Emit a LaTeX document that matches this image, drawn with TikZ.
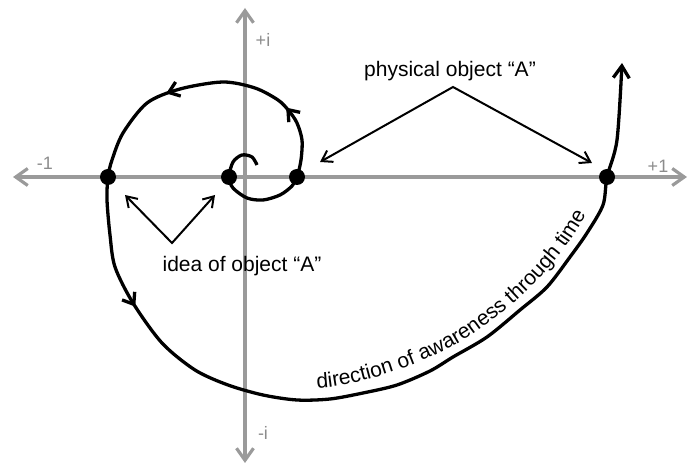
\documentclass[tikz,border=0pt]{standalone}
\usepackage{fontspec}
\setmainfont{Liberation Sans}
\usepackage{tikz}
\usetikzlibrary{arrows.meta,decorations.markings,decorations.text}
\definecolor{AxisGray}{HTML}{9A9A9A}
\definecolor{LabelGray}{HTML}{8C8C8C}
\newcommand{\figlabelfont}{\fontsize{21}{24}\selectfont}
\newcommand{\axlabelfont}{\fontsize{18}{21}\selectfont}

\begin{document}
\begin{tikzpicture}[x=1pt, y=1pt,
  axisline/.style={draw=AxisGray, line width=3.2pt, {Straight Barb[length=12pt,width=17pt]}-{Straight Barb[length=12pt,width=17pt]}},
  axlabel/.style={text=LabelGray, font=\axlabelfont, inner sep=0pt},
  dot/.style={circle, fill=black, minimum size=16pt, inner sep=0pt},
  spiral/.style={line width=3.3pt, -{Straight Barb[length=12pt,width=16pt]},
    decoration={markings,
      mark=at position 210pt with {\arrow{Straight Barb[length=10pt,width=15pt]}},
      mark=at position 338pt with {\arrow{Straight Barb[length=10pt,width=15pt]}},
      mark=at position 580pt with {\arrow{Straight Barb[length=10pt,width=15pt]}}},
    postaction={decorate}},
  pointer/.style={line width=2pt, line join=miter, {Straight Barb[length=10pt,width=13pt]}-{Straight Barb[length=10pt,width=13pt]}},
  textlabel/.style={font=\figlabelfont, inner sep=0pt, anchor=base}
]
  \useasboundingbox (0,0) rectangle (689,466);

  % Axes
  \coordinate (xminus) at (13,289);
  \coordinate (xplus) at (687,289);
  \coordinate (yminus) at (245,3);
  \coordinate (yplus) at (245,458);
  \draw[axisline] (xminus) -- (xplus);
  \draw[axisline] (yminus) -- (yplus);
  \node[axlabel] (lblmone) at (45,303) {-1};
  \node[axlabel] (lblpone) at (658,300) {+1};
  \node[axlabel] (lblpi) at (263,426) {+i};
  \node[axlabel] (lblmi) at (263,33) {-i};

  % Points on the axis
  \node[dot] (idea1) at (229,289) {};
  \node[dot] (idea2) at (108,289) {};
  \node[dot] (phys1) at (297,289) {};
  \node[dot] (phys2) at (607,289) {};

  % Spiral
  \draw[spiral] plot[smooth] coordinates {(257,301) (252,309) (242,311) (233,304)
    (idea1.center) (233,278) (247,268) (263,266) (280,271) (292,280)
    (phys1.center) (301,306) (302,326) (297,343) (289,355) (278,366) (255,378)
    (223,384) (180,377) (147,363) (123,333) (112,306)
    (idea2.center) (107,266) (110,231) (115,199) (133,163) (162,123) (195,96)
    (228,81) (263,71) (297,66) (330,67) (363,73) (397,81) (430,95) (453,109)
    (487,129) (520,156) (547,179) (570,209) (587,233) (603,261)
    (phys2.center) (617,326) (622,403)};
  \path[decorate, decoration={text along path, text align=left,
      text={|\figlabelfont|direction of awareness through time}}]
    (317,78) .. controls (360,80) and (440,106) .. (481,138)
    .. controls (515,160) and (570,212) .. (593,266);

  % Labels
  \node[textlabel] (physlbl) at (450,389) {physical object “A”};
  \node[textlabel] (idealbl) at (242,194) {idea of object “A”};

  % Pointers
  \coordinate (physapex) at (453,379);
  \coordinate (phystip1) at (320,304);
  \coordinate (phystip2) at (592,303);
  \draw[pointer] (phystip1) -- (physapex) -- (phystip2);
  \coordinate (ideaapex) at (172,223);
  \coordinate (ideatip1) at (125,271);
  \coordinate (ideatip2) at (215,271);
  \draw[pointer] (ideatip1) -- (ideaapex) -- (ideatip2);
\end{tikzpicture}
\end{document}
